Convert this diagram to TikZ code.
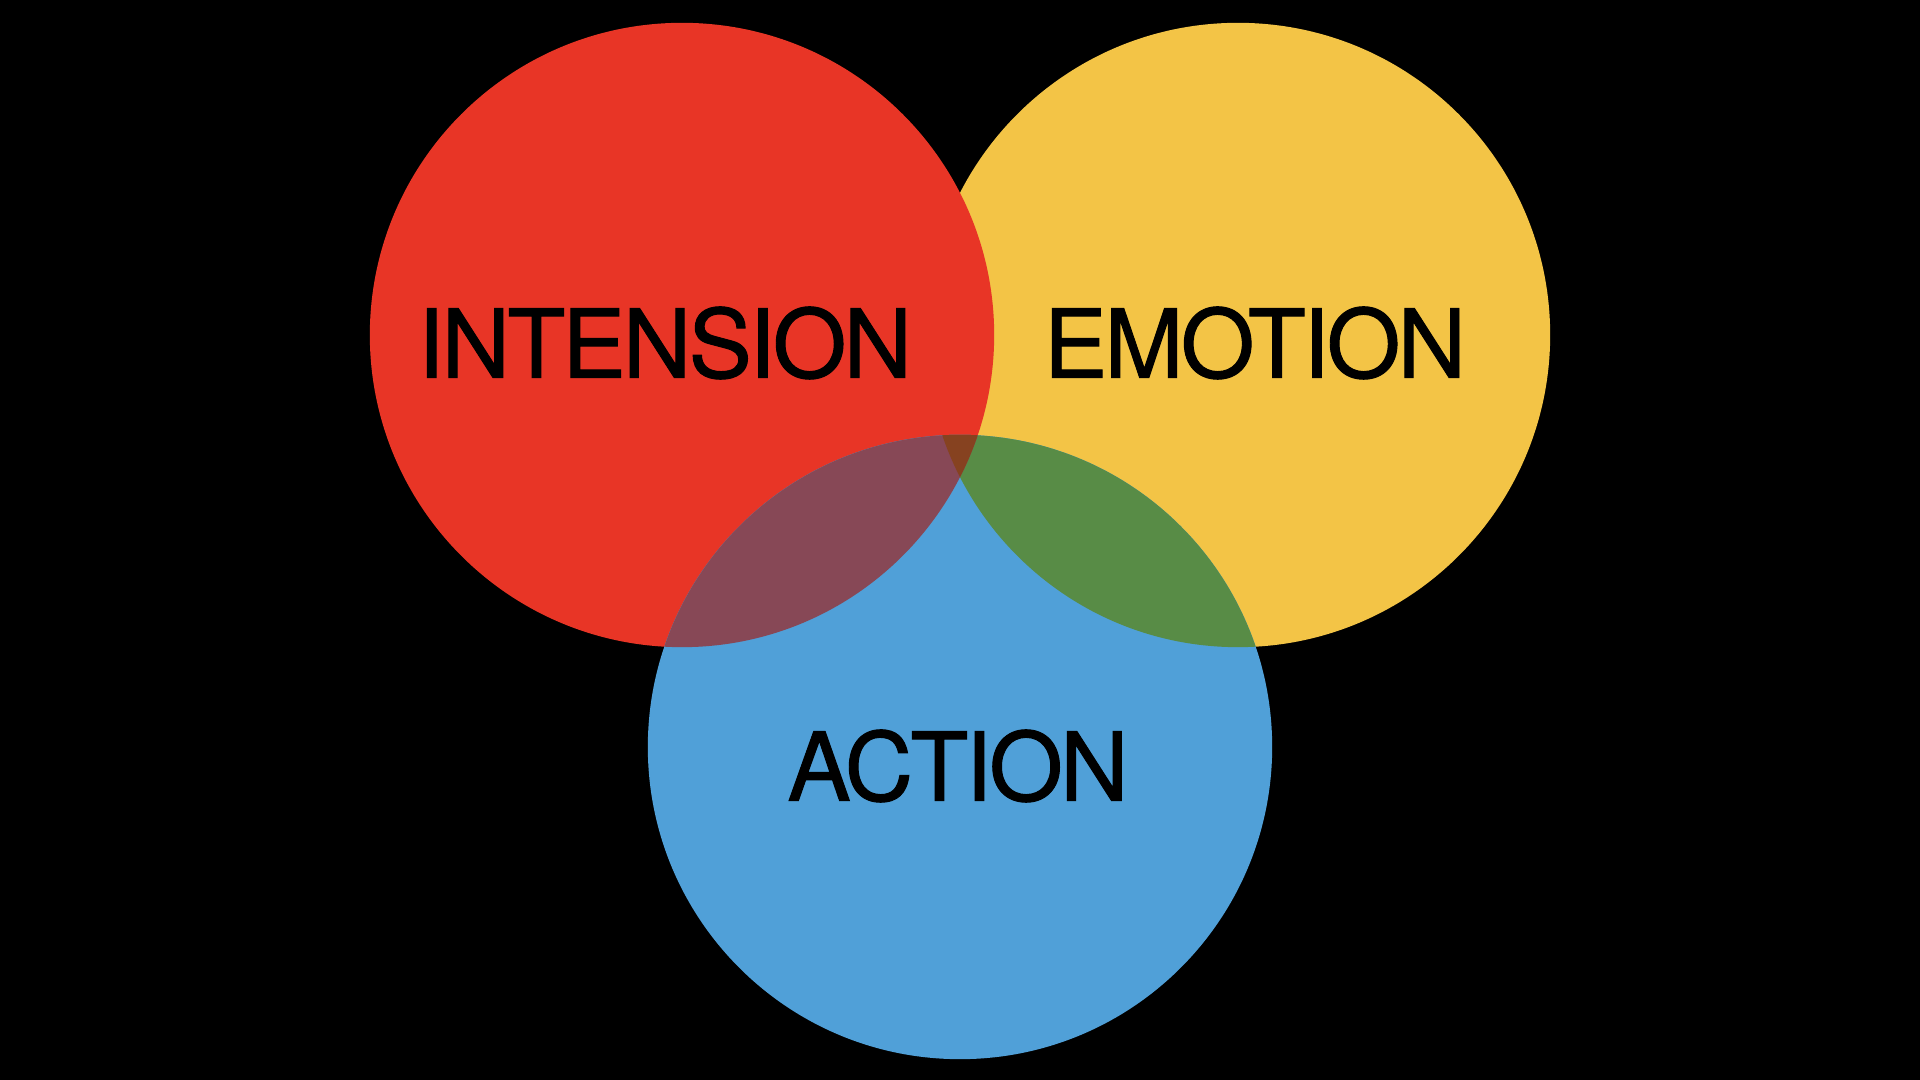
\documentclass[tikz,border=0pt]{standalone}
\usepackage{fontspec}
\setmainfont{TeX Gyre Heros}
\newfontfamily\setfont[LetterSpace=-3,FakeBold=1]{TeX Gyre Heros}
\usepackage{tikz}
\usetikzlibrary{positioning}
\definecolor{intensionred}{RGB}{232,53,38}
\definecolor{emotionyellow}{RGB}{243,196,70}
\definecolor{actionblue}{RGB}{80,160,216}
\definecolor{mauve}{RGB}{135,72,86}
\definecolor{leafgreen}{RGB}{88,140,70}
\definecolor{rustbrown}{RGB}{134,66,32}
\tikzset{
  setname/.style={font=\setfont\fontsize{27}{32}\selectfont,text=black,inner sep=0pt}
}

\begin{document}
\begin{tikzpicture}[x=0.01cm,y=-0.01cm]
\fill[black] (0,0) rectangle (1920,1080);
\coordinate (ci) at (682,335);
\coordinate (ce) at (1238,335);
\coordinate (ca) at (960,747);
% the three sets, red laid over yellow
\fill[emotionyellow] (ce) circle[radius=3.12cm];
\fill[intensionred] (ci) circle[radius=3.12cm];
\fill[actionblue] (ca) circle[radius=3.12cm];
% overlaps with action
\begin{scope}
  \clip (ca) circle[radius=3.12cm];
  \fill[leafgreen] (ce) circle[radius=3.12cm];
  \begin{scope}
    \clip (ci) circle[radius=3.12cm];
    \fill[mauve] (0,0) rectangle (1920,1080);
    \fill[rustbrown] (ce) circle[radius=3.12cm];
  \end{scope}
\end{scope}
\node[setname] (intension) at (665,343) {INTENSION};
\node[setname] (emotion) at (1255,343) {EMOTION};
\node[setname] (action) at (958,766) {ACTION};
\end{tikzpicture}
\end{document}
